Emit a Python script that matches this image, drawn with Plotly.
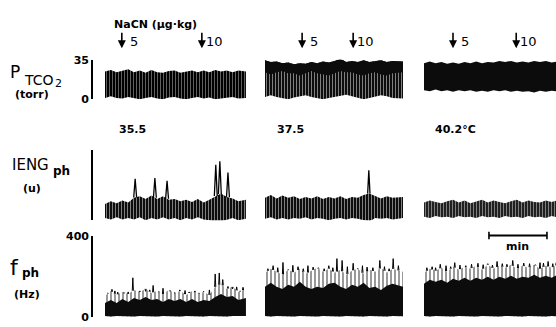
import numpy as np
import plotly.graph_objects as go

W, H = 556, 327
PX_PER_MIN = 58.0  # length of the 1-min scale bar in pixels

# ---- time grids (min from start of each record) ----
T1 = [0.0, 0.1, 0.2, 0.3, 0.4, 0.5, 0.6, 0.7, 0.8, 0.9, 1.0, 1.1, 1.2,
      1.3, 1.4, 1.5, 1.6, 1.7, 1.8, 1.9, 2.0, 2.1, 2.2, 2.3, 2.43]
T2 = [0.0, 0.1, 0.2, 0.3, 0.4, 0.5, 0.6, 0.7, 0.8, 0.9, 1.0, 1.1, 1.2,
      1.3, 1.4, 1.5, 1.6, 1.7, 1.8, 1.9, 2.0, 2.1, 2.2, 2.38]
T3 = [0.0, 0.1, 0.2, 0.3, 0.4, 0.5, 0.6, 0.7, 0.8, 0.9, 1.0, 1.1, 1.2,
      1.3, 1.4, 1.5, 1.6, 1.7, 1.8, 1.9, 2.0, 2.1, 2.2, 2.3]

TEMPS = ["35.5", "37.5", "40.2°C"]
DOSES = ["5", "10"]
INJECT_T = [[0.29, 1.67], [0.64, 1.52], [0.50, 1.59]]  # NaCN injection times

# ---- PtcO2 (torr): trace envelopes ----
P1_HI = [24.5, 26, 24, 25.5, 26.5, 24, 25.5, 23.5, 26, 24, 23.5, 25, 25.5,
         23.5, 24.5, 25.5, 24, 25.5, 24, 26, 24.5, 25.5, 24, 25.5, 24.5]
P1_LO = [1, 2.5, 1, 0.5, 2, 1, 0, 1, 2, 0.5, 0, 1.5, 2, 0.5, 0, 1, 2, 0.5,
         1.5, 0, 0.5, 1.5, 2, 0.5, 1]
P2_HI = [34.5, 33, 33.5, 32, 32.5, 31, 32, 31.5, 33, 32, 33.5, 32.5, 34,
         36, 33, 34, 33, 34.5, 33, 34, 34.5, 33, 34, 33.5]
P2_MID = [24, 22, 24, 25, 23, 23, 21, 23, 25, 23, 22, 21, 23, 25, 24, 24,
          22, 21, 23, 24, 22, 21, 23, 24]
P2_LO = [2, 3.5, 2, 1, 0, 1.5, 2.5, 3.5, 2, 1, 0, 1, 2, 3, 4, 2.5, 1.5,
         0, 1, 2, 3.5, 2.5, 1, 0.5]
P3_HI = [32, 33.5, 32, 33, 31.5, 32.5, 31.5, 33, 32, 33.5, 32, 33, 32.5, 34,
         33, 34, 32.5, 33.5, 32.5, 34, 33, 34, 32.5, 33.5]
P3_LO = [8, 7, 8.5, 7, 8, 6.5, 8, 7, 8, 6.5, 7.5, 6.5, 8, 7, 8, 6.5, 7.5,
         6.5, 7, 6, 7.5, 6.5, 7.5, 7]

# ---- IENG phrenic (arbitrary units) ----
E1_HI = [2.3, 2.7, 2.4, 2.8, 2.5, 3.2, 3.4, 3.0, 3.5, 3.0, 3.4, 2.9, 3.0,
         2.7, 2.9, 2.6, 3.0, 2.5, 2.9, 3.4, 3.8, 3.3, 3.1, 2.7, 2.9]
E1_LO = [0.3, 0.1, 0.4, 0.1, 0.3, 0.1, 0.4, 0.0, 0.3, 0.1, 0.4, 0.1, 0.3,
         0.0, 0.3, 0.1, 0.4, 0.1, 0.0, -0.3, -0.2, 0.1, 0.3, 0.0, 0.2]
E2_HI = [3.2, 3.6, 3.1, 3.5, 3.2, 3.4, 3.0, 3.3, 3.1, 3.4, 3.0, 3.3, 3.1,
         3.4, 3.0, 3.3, 3.2, 3.6, 3.8, 3.4, 3.1, 3.4, 3.2, 3.3]
E2_LO = [0.2, 0.4, 0.1, 0.3, 0.1, 0.3, 0.2, 0.4, 0.1, 0.3, 0.2, 0.0, 0.2,
         0.3, 0.1, 0.3, 0.2, 0.0, -0.2, 0.3, 0.2, 0.3, 0.1, 0.3]
E3_HI = [2.5, 2.8, 2.6, 2.4, 2.7, 2.9, 2.5, 2.8, 2.4, 2.7, 2.9, 2.5, 2.8,
         2.6, 2.4, 2.7, 2.9, 2.5, 2.8, 2.6, 2.5, 2.8, 2.6, 2.8]
E3_LO = [0.5, 0.3, 0.6, 0.4, 0.5, 0.3, 0.6, 0.4, 0.5, 0.3, 0.6, 0.4, 0.5,
         0.3, 0.6, 0.4, 0.5, 0.3, 0.6, 0.4, 0.5, 0.3, 0.6, 0.4]
E1_SPK_T = [0.52, 0.86, 1.07, 1.91, 1.98, 2.12]
E1_SPK_V = [5.9, 6.0, 5.6, 7.9, 8.4, 6.8]
E2_SPK_T = [1.79]
E2_SPK_V = [7.1]

# ---- phrenic burst frequency (Hz) ----
F1_HI = [105, 130, 110, 125, 115, 135, 125, 140, 120, 130, 115, 135, 120,
         130, 110, 130, 115, 125, 110, 150, 165, 140, 150, 125, 140]
F1_MID = [70, 85, 70, 90, 75, 95, 85, 100, 85, 90, 75, 90, 80, 90, 75, 90,
          75, 85, 80, 100, 115, 100, 105, 85, 95]
F1_LO = [5, 3, 6, 4, 5, 3, 6, 4, 5, 3, 6, 4, 5, 3, 6, 4, 5, 3, 6, 4, 5, 3,
         6, 4, 5]
F2_HI = [220, 240, 225, 210, 235, 220, 240, 215, 230, 245, 225, 240, 220,
         235, 210, 230, 240, 215, 235, 225, 245, 220, 240, 225]
F2_MID = [150, 170, 150, 140, 160, 150, 175, 150, 140, 150, 145, 165, 170,
          150, 140, 160, 150, 170, 145, 150, 135, 155, 165, 150]
F2_LO = [5, 3, 6, 4, 5, 3, 6, 4, 5, 3, 6, 4, 5, 3, 6, 4, 5, 3, 6, 4, 5, 3,
         6, 4]
F3_HI = [220, 240, 230, 245, 225, 250, 235, 250, 240, 255, 235, 260, 240,
         255, 245, 260, 240, 255, 245, 260, 240, 255, 245, 260]
F3_MID = [165, 185, 175, 185, 170, 190, 180, 195, 180, 195, 185, 200, 185,
          200, 190, 205, 190, 200, 195, 210, 195, 205, 195, 210]
F3_LO = [5, 3, 6, 4, 5, 3, 6, 4, 5, 3, 6, 4, 5, 3, 6, 4, 5, 3, 6, 4, 5, 3,
         6, 4]
F1_SPK_T = [0.05, 0.12, 0.17, 0.22, 0.33, 0.40, 0.48, 0.60, 0.70, 0.77,
            0.83, 0.93, 1.00, 1.12, 1.20, 1.29, 1.38, 1.45, 1.55, 1.62,
            1.70, 1.80, 1.90, 1.97, 2.03, 2.12, 2.20, 2.27, 2.33, 2.38]
F1_SPK_V = [120, 138, 130, 124, 118, 125, 195, 130, 128, 135, 157, 125, 143,
            128, 120, 135, 132, 125, 130, 120, 128, 135, 214, 219, 186, 152,
            140, 150, 130, 148]
F2_SPK_T = [0.05, 0.14, 0.22, 0.31, 0.40, 0.48, 0.57, 0.66, 0.74, 0.83,
            0.92, 1.02, 1.10, 1.17, 1.24, 1.33, 1.42, 1.52, 1.60, 1.68,
            1.76, 1.86, 1.98, 2.06, 2.14, 2.21, 2.30]
F2_SPK_V = [240, 255, 245, 271, 235, 257, 250, 240, 255, 248, 245, 240, 255,
            245, 290, 281, 250, 267, 240, 255, 248, 245, 281, 250, 240, 290,
            255]
F3_SPK_T = [0.05, 0.14, 0.20, 0.28, 0.38, 0.46, 0.53, 0.62, 0.72, 0.82,
            0.93, 1.02, 1.10, 1.18, 1.26, 1.35, 1.43, 1.53, 1.62, 1.72,
            1.82, 1.92, 2.00, 2.06, 2.14, 2.22, 2.28]
F3_SPK_V = [245, 250, 245, 262, 255, 250, 270, 258, 255, 262, 267, 260, 265,
            258, 276, 265, 262, 281, 262, 268, 265, 260, 270, 268, 276, 265,
            270]

# ---- layout geometry (pixels) ----
COL_PX = [(105, 246), (265, 403), (424, 556)]
ROW_PX = [(56, 97), (150, 223), (240, 324)]
ROW_MAX = [35, 10, 400]
AXIS_X_PX = 92
FONT = "DejaVu Sans"

# fill textures: (size, solidity, stripe colour, background); None = solid ink
DARK = (3, 0.25, "white", "black")
SOLID = None
STRIPED = (3, 0.4, "white", "black")
SPARSE = (4, 0.4, "black", "white")
LIGHT = (3, 0.5, "white", "black")


def fx(px):
    return px / W


def fy(py):
    return 1 - py / H


fig = go.Figure()

layout = dict(width=W, height=H, margin=dict(l=0, r=0, t=0, b=0),
              paper_bgcolor="white", plot_bgcolor="rgba(0,0,0,0)",
              showlegend=False)

for c, (x0, x1) in enumerate(COL_PX):
    key = "xaxis" if c == 0 else f"xaxis{c+1}"
    layout[key] = dict(domain=[fx(x0), fx(x1)], range=[0, (x1 - x0) / PX_PER_MIN],
                       visible=False, anchor="y", fixedrange=True)

tick_text = [["0", "35"], ["", ""], ["0", "400"]]
for r, (ytop, ybot) in enumerate(ROW_PX):
    key = "yaxis" if r == 0 else f"yaxis{r+1}"
    layout[key] = dict(domain=[fy(ybot), fy(ytop)], range=[0, ROW_MAX[r]],
                       anchor="free", position=fx(AXIS_X_PX),
                       showline=True, linecolor="black", linewidth=1.6,
                       ticks="inside", ticklen=6, tickwidth=1.6, tickcolor="black",
                       tickvals=[0, ROW_MAX[r]], ticktext=tick_text[r],
                       tickfont=dict(family=FONT, size=11, color="black", weight="bold"),
                       showgrid=False, zeroline=False, fixedrange=True)
fig.update_layout(**layout)


def axes(c, r):
    return ("x" if c == 0 else f"x{c+1}"), ("y" if r == 0 else f"y{r+1}")


def band(t, lo, hi, c, r, tex, edge=0.0):
    xa, ya = axes(c, r)
    fig.add_trace(go.Scatter(x=t, y=lo, xaxis=xa, yaxis=ya, mode="lines",
                             line=dict(color="black", width=edge), hoverinfo="skip"))
    kw = dict(fill="tonexty")
    if tex is None:
        kw["fillcolor"] = "rgb(12,12,12)"
    else:
        size, sol, fg, bg = tex
        kw["fillpattern"] = dict(shape="|", fgcolor=fg, bgcolor=bg,
                                 size=size, solidity=sol)
    fig.add_trace(go.Scatter(x=t, y=hi, xaxis=xa, yaxis=ya, mode="lines",
                             line=dict(color="black", width=edge), hoverinfo="skip",
                             **kw))


def spikes(t_grid, base, spk_t, spk_v, c, r, half=0.02, width=1.1):
    xa, ya = axes(c, r)
    xs, ys = [], []
    for t, v in zip(spk_t, spk_v):
        b = float(np.interp(t, t_grid, base))
        xs += [t - half, t, t + half, None]
        ys += [b, v, b, None]
    fig.add_trace(go.Scatter(x=xs, y=ys, xaxis=xa, yaxis=ya, mode="lines",
                             line=dict(color="black", width=width), hoverinfo="skip"))


# PtcO2 row
band(T1, P1_LO, P1_HI, 0, 0, DARK)
band(T2, P2_LO, P2_HI, 1, 0, STRIPED)
band(T2, P2_MID, P2_HI, 1, 0, SOLID)
band(T3, P3_LO, P3_HI, 2, 0, SOLID)

# IENG row
band(T1, E1_LO, E1_HI, 0, 1, STRIPED)
band(T2, E2_LO, E2_HI, 1, 1, STRIPED)
band(T3, E3_LO, E3_HI, 2, 1, LIGHT)
spikes(T1, E1_HI, E1_SPK_T, E1_SPK_V, 0, 1, half=0.025, width=1.3)
spikes(T2, E2_HI, E2_SPK_T, E2_SPK_V, 1, 1, half=0.02, width=1.3)

# f_ph row
for c, (t, lo, mid, hi, st, sv) in enumerate([
        (T1, F1_LO, F1_MID, F1_HI, F1_SPK_T, F1_SPK_V),
        (T2, F2_LO, F2_MID, F2_HI, F2_SPK_T, F2_SPK_V),
        (T3, F3_LO, F3_MID, F3_HI, F3_SPK_T, F3_SPK_V)]):
    band(t, lo, hi, c, 2, SPARSE)
    band(t, lo, mid, c, 2, SOLID)
    spikes(t, hi, st, sv, c, 2, half=0.01, width=1.0)

ann = []


def text(s, x, y, size=11, bold=True, anchor="left"):
    ann.append(dict(text=s, x=fx(x), y=fy(y), xref="paper", yref="paper",
                    xanchor=anchor, yanchor="middle", showarrow=False,
                    font=dict(family=FONT, size=size, color="black",
                              weight="bold" if bold else "normal")))


# injection arrows and doses
for c, times in enumerate(INJECT_T):
    xa = "x" if c == 0 else f"x{c+1}"
    for i, t in enumerate(times):
        ann.append(dict(x=t, y=fy(44), xref=xa, yref="paper", text="",
                        showarrow=True, ax=0, ay=-17, arrowhead=2, arrowsize=1,
                        arrowwidth=1.6, arrowcolor="black"))
        ann.append(dict(x=t, y=fy(37), xref=xa, yref="paper", text=DOSES[i],
                        xanchor="left", yanchor="middle", showarrow=False,
                        xshift=6 if i == 0 else 2,
                        font=dict(family=FONT, size=13, color="black")))

text("NaCN (μg·kg)", 112, 19, size=11)
for c, s in enumerate(TEMPS):
    text(s, [117, 275, 433][c], 129, size=11)

# row labels
text("P", 8, 69, size=17, bold=False)
text("TCO", 22, 77, size=14, bold=False)
text("2", 53, 81, size=11, bold=False)
text("(torr)", 13, 92, size=11)
text("IENG", 10, 166, size=15, bold=False)
text("ph", 51, 172, size=12)
text("(u)", 21, 190, size=11)
text("f", 8, 272, size=22, bold=False)
text("ph", 20, 278, size=12)
text("(Hz)", 12, 300, size=11)

# 1-min scale bar in the third record
SCALE_START = 1.12
SCALE_LEN = 1.0
sy = fy(239)
shapes = [
    dict(type="line", xref="x3", yref="paper", x0=SCALE_START, x1=SCALE_START + SCALE_LEN,
         y0=sy, y1=sy, line=dict(color="black", width=1.8)),
    dict(type="line", xref="x3", yref="paper", x0=SCALE_START, x1=SCALE_START,
         y0=fy(235), y1=fy(243), line=dict(color="black", width=1.6)),
    dict(type="line", xref="x3", yref="paper", x0=SCALE_START + SCALE_LEN,
         x1=SCALE_START + SCALE_LEN, y0=fy(235), y1=fy(243),
         line=dict(color="black", width=1.6)),
]
ann.append(dict(text="min", x=SCALE_START + SCALE_LEN / 2, y=fy(250), xref="x3",
                yref="paper", showarrow=False, xanchor="center", yanchor="middle",
                font=dict(family=FONT, size=11, color="black", weight="bold")))

fig.update_layout(annotations=ann, shapes=shapes)
fig.write_html("out.html", config={"displayModeBar": False})
